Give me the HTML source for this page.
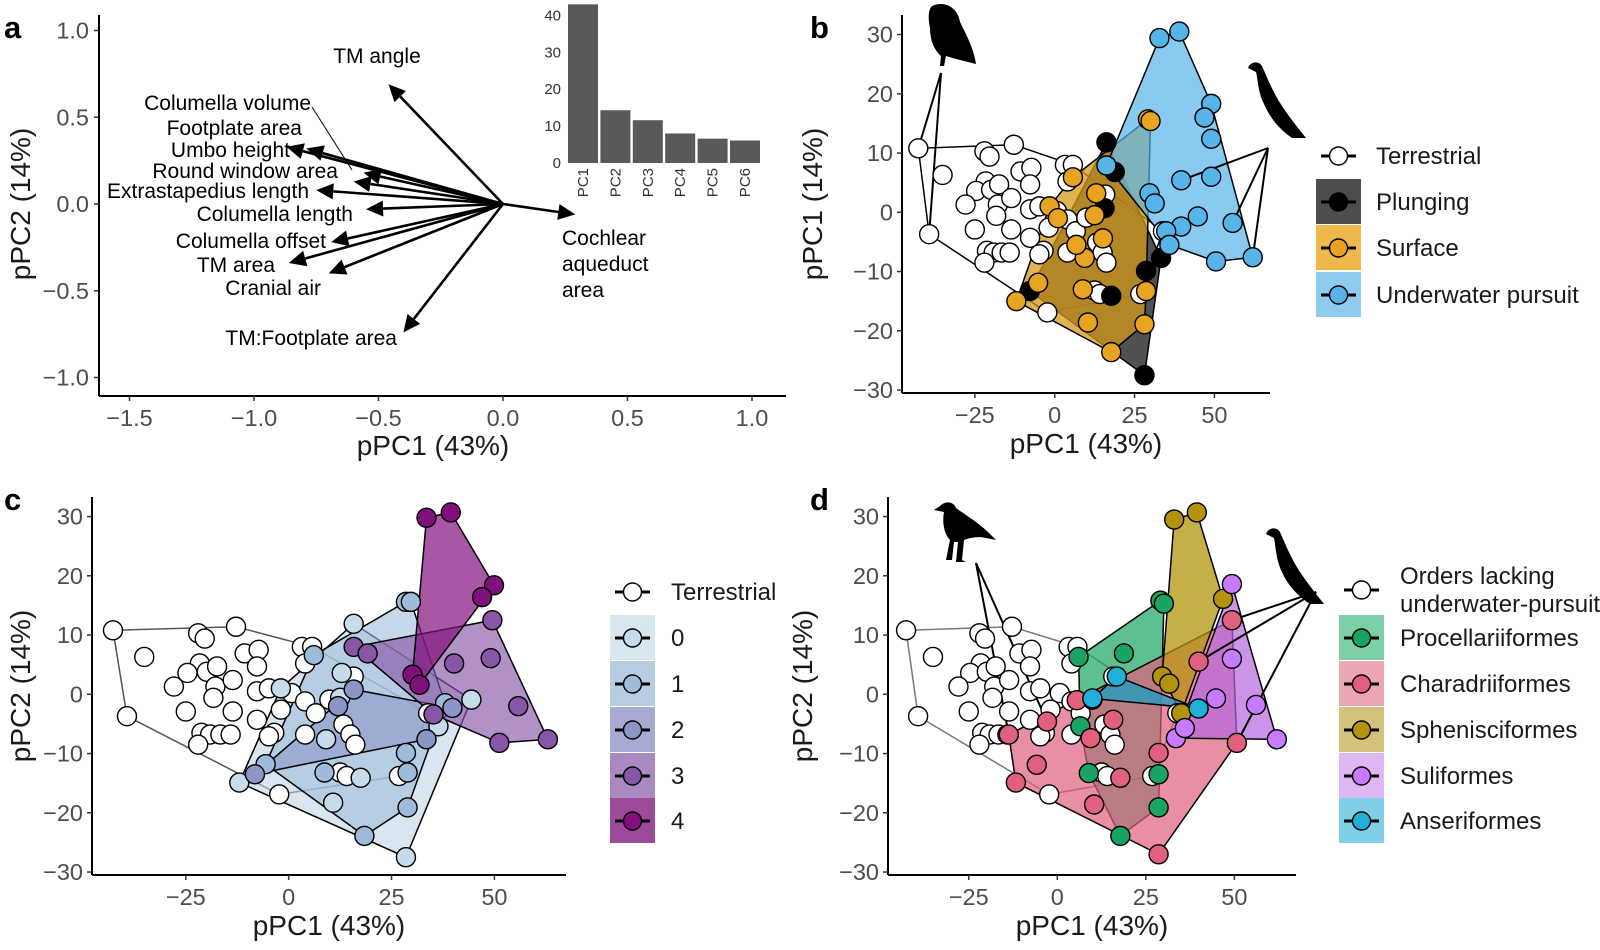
<!DOCTYPE html>
<html><head><meta charset="utf-8"><style>
html,body{margin:0;padding:0;background:#fff;}
svg{display:block;font-family:"Liberation Sans",sans-serif;}
.tk{fill:#4d4d4d;font-size:23.5px;}
.at{fill:#1a1a1a;font-size:28px;}
.lg{fill:#1a1a1a;font-size:24px;}
.al{fill:#000;font-size:21px;}
.pl{fill:#000;font-size:31px;font-weight:bold;}
</style></head><body>
<svg id="fig" width="1600" height="950" viewBox="0 0 1600 950">
<text class="pl" x="4" y="38">a</text>
<text class="pl" x="810" y="38">b</text>
<text class="pl" x="4" y="510">c</text>
<text class="pl" x="810" y="510">d</text>
<g id="pa"></g>
<g id="pb"></g>
<g id="pc"></g>
<g id="pd"></g>
</svg>
<script>
// ---- Panel a: loadings ----
const arrowNames=["TM angle","Footplate area","Umbo height","Columella volume","Round window area","Extrastapedius length","Columella length","Columella offset","TM area","Cranial air","TM:Footplate area","Cochlear aqueduct area"];
const arrowX=[-0.46,-0.79,-0.87,-0.56,-0.60,-0.75,-0.55,-0.69,-0.86,-0.70,-0.40,0.29];
const arrowY=[0.69,0.32,0.33,0.18,0.13,0.08,-0.03,-0.22,-0.34,-0.40,-0.74,-0.06];
const aXTicks=[-1.5,-1.0,-0.5,0.0,0.5,1.0];
const aYTicks=[1.0,0.5,0.0,-0.5,-1.0];
// inset scree
const pcNames=["PC1","PC2","PC3","PC4","PC5","PC6"];
const pcVals=[43,14.3,11.6,8,6.6,6.1];
const pcTicks=[0,10,20,30,40];
// ---- shared scatter data ----
const terrestrial=[[-42.7,10.8],[-35.1,6.3],[-39.3,-3.7],[-22,10.3],[-20.4,9.4],[-12.8,11.4],[-10.7,6.9],[-7.3,7.5],[-7.7,4.7],[-21.6,5.2],[-24.6,3.6],[-19.9,3.8],[-17.4,4.7],[-17.8,1.3],[-13.6,2.4],[-18.3,-0.6],[-27.9,1.3],[-25,-2.9],[-13.6,-2.9],[-21.2,-6.5],[-19.1,-6.8],[-16.6,-6.8],[-14.1,-6.8],[-22,-8.5],[-7.7,0.5],[-4.8,1.0],[0.7,0.2],[-1.9,-2.6],[-7.7,-4.3],[-3.5,-6.5],[-4.8,-7.1],[4,-6.8],[4,-1.2],[6.6,-3.2],[9.9,-0.9],[13.3,-5.1],[15,-6.8],[16.2,-8.5],[15.8,3.0],[3.2,8.0],[5.7,8.0],[4,5.2],[33.9,-3.2],[26.8,-13.8],[12.5,-13.2],[14.1,-13.8],[-2.3,-16.9]];
// panel b: foraging habit
const plunging=[[16.2,11.8],[18.8,6.8],[15.6,0.7],[-7.8,-13.3],[17.7,-14.1],[28.6,-9.9],[33.3,-7.7],[28.1,-27.5]];
const surface=[[29.2,15.7],[30,15.4],[5.7,5.9],[13,3.2],[-1.6,1.0],[12.5,-0.5],[15.1,-4.4],[9.4,-7.7],[6.8,-5.5],[-5.2,-11.9],[-12,-15],[8.8,-13],[28.6,-13.3],[10.4,-18.6],[28.1,-18.9],[17.7,-23.6],[1,-1]];
const underwater=[[32.8,29.4],[39,30.5],[49,18.3],[46.9,16],[49,12.4],[49,6],[39.6,5.4],[16.2,7.9],[29.7,3.2],[31.3,1.5],[44.8,-0.7],[55.7,-1.8],[39.6,-2.4],[34.9,-3.2],[35.9,-5.5],[50.5,-8.3],[62,-7.6]];
// panel c: dive score
const dive0=[[15.8,11.9],[12.9,3.6],[-1.9,1.0],[9.1,-7.6],[17.5,-14.1],[10.8,-18.3],[28.5,-27.5],[-12,-14.9],[44.4,-0.9],[36.4,-5.4],[12.5,-0.6]];
const dive1=[[28.5,15.6],[29.7,15.6],[6.1,6.6],[28.5,-9.9],[28.9,-13.2],[28.9,-19.1],[18.4,-23.9],[8.7,-13.2],[-5.6,-11.8],[38,-1.5]];
const dive2=[[15.8,0.8],[33.5,-7.6],[-8.2,-13.5],[39.8,-2.3],[12,-2]];
const dive3=[[49.5,12.5],[49.1,6.1],[40.2,5.2],[55.8,-2],[63,-7.6],[51.2,-8.2],[35.2,-3.4],[15.8,8.0],[19.2,6.9]];
const dive4=[[33.5,29.8],[39.4,30.7],[49.9,18.4],[47,16.4],[30.1,3.3],[31.8,1.6]];
// panel d: orders
const procellariiformes=[[29.1,15.8],[30.1,15.3],[6,6.3],[18.8,6.9],[6.5,-5.4],[8.9,-13.3],[28.6,-13.5],[28.6,-19.1],[17.8,-23.9]];
const charadriiformes=[[49.3,12.5],[39.9,5.5],[50.7,-8.2],[-2.9,-4.6],[-13.7,-6.8],[5.5,-1],[9.4,-7.4],[15.8,-4.3],[17.8,-14.1],[10.4,-18.6],[-5.8,-11.9],[-11.7,-14.9],[28.6,-9.9],[28.6,-27]];
const sphenisciformes=[[33,29.5],[39.4,30.7],[46.8,16.1],[29.6,3.0],[31.6,1.8],[35,-3.2]];
const suliformes=[[49.3,18.6],[49.3,6.0],[44.8,-0.7],[56.1,-1.8],[62,-7.6],[33.5,-7.4],[36,-5.7]];
const anseriformes=[[16.8,3.0],[9.9,-0.7],[39.9,-2.4]];
const sXTicks=[-25,0,25,50];
const sYTicks=[-30,-20,-10,0,10,20,30];
const xRange=[-47.8,67.4], yRange=[-30.5,33.3];

const NS="http://www.w3.org/2000/svg";
function mk(parent,tag,attrs,txt){const e=document.createElementNS(NS,tag);for(const k in attrs)e.setAttribute(k,attrs[k]);if(txt!==undefined)e.textContent=txt;parent.appendChild(e);return e;}
function hull(pts){const p=pts.slice().sort((a,b)=>a[0]-b[0]||a[1]-b[1]);if(p.length<3)return p;const cr=(o,a,b)=>(a[0]-o[0])*(b[1]-o[1])-(a[1]-o[1])*(b[0]-o[0]);const lo=[],up=[];for(const q of p){while(lo.length>=2&&cr(lo[lo.length-2],lo[lo.length-1],q)<=0)lo.pop();lo.push(q);}for(let i=p.length-1;i>=0;i--){const q=p[i];while(up.length>=2&&cr(up[up.length-2],up[up.length-1],q)<=0)up.pop();up.push(q);}up.pop();lo.pop();return lo.concat(up);}

// ===== Panel a =====
(function(){
const g=document.getElementById('pa');
const F={l:99,r:786,t:15,b:396};
const X=v=>503+v*249, Y=v=>204-v*173.5;
let e;
e=mk(g,'line',{x1:F.l,y1:F.t,x2:F.l,y2:F.b,stroke:'#000','stroke-width':2});


e=mk(g,'line',{x1:F.l,y1:F.b,x2:F.r,y2:F.b,stroke:'#000','stroke-width':2});


aXTicks.forEach(t=>{mk(g,'line',{x1:X(t),y1:F.b,x2:X(t),y2:F.b+5,stroke:'#333','stroke-width':1.5});
 e=mk(g,'text',{class:'tk',x:X(t),y:F.b+30,'text-anchor':'middle'},(t<0?'\u2212':'')+Math.abs(t).toFixed(1));
 
 });
aYTicks.forEach(t=>{mk(g,'line',{x1:F.l-5,y1:Y(t),x2:F.l,y2:Y(t),stroke:'#333','stroke-width':1.5});
 e=mk(g,'text',{class:'tk',x:F.l-10,y:Y(t)+8,'text-anchor':'end'},(t<0?'\u2212':'')+Math.abs(t).toFixed(1));
 
 });
e=mk(g,'text',{class:'at',x:433,y:455,'text-anchor':'middle'},'pPC1 (43%)');


e=mk(g,'text',{class:'at',x:0,y:0,'text-anchor':'middle',transform:'translate(30,204) rotate(-90)'},'pPC2 (14%)');


const ox=X(0),oy=Y(0);
arrowX.forEach((v,i)=>{const x2=X(v),y2=Y(arrowY[i]);const dx=x2-ox,dy=y2-oy,L=Math.hypot(dx,dy),ux=dx/L,uy=dy/L;const hl=17,hw=8;
 const bx=x2-ux*hl,by=y2-uy*hl;
 e=mk(g,'line',{x1:ox,y1:oy,x2:bx,y2:by,stroke:'#000','stroke-width':2.6});
 
 
 e=mk(g,'polygon',{points:`${x2},${y2} ${bx-uy*hw},${by+ux*hw} ${bx+uy*hw},${by-ux*hw}`,fill:'#000'});
 
 });
const labs=[["TM angle",377,63,'middle'],["Columella volume",311,110,'end'],["Footplate area",302,135,'end'],["Umbo height",290,157,'end'],["Round window area",338,178,'end'],["Extrastapedius length",309,198,'end'],["Columella length",353,221,'end'],["Columella offset",326,248,'end'],["TM area",275,272,'end'],["Cranial air",321,295,'end'],["TM:Footplate area",397,345,'end'],["Cochlear",562,245,'start'],["aqueduct",562,271,'start'],["area",562,297,'start']];
labs.forEach(l=>{e=mk(g,'text',{class:'al',x:l[1],y:l[2],'text-anchor':l[3]},l[0]);
 
 });
e=mk(g,'line',{x1:312,y1:107,x2:352,y2:170,stroke:'#000','stroke-width':1});


// inset
const ib=163,iu=3.69,bx0=568,bs=32.4,bw=30;
pcVals.forEach((v,i)=>{e=mk(g,'rect',{x:bx0+i*bs,y:ib-v*iu,width:bw,height:v*iu,fill:'#595959'});
 
 
 e=mk(g,'text',{x:0,y:0,'font-size':15,fill:'#333','text-anchor':'end',transform:`translate(${bx0+i*bs+bw/2+5},${ib+5}) rotate(-90)`},pcNames[i]);
 
 });
pcTicks.forEach(t=>{e=mk(g,'text',{x:561,y:ib-t*iu+5,'font-size':15,fill:'#333','text-anchor':'end'},String(t));
 
 });
})();

// ===== scatter panels =====
function scatterPanel(id,F,groups,opts){
 const g=document.getElementById(id);
 const X=v=>F.l+(v-xRange[0])/(xRange[1]-xRange[0])*(F.r-F.l);
 const Y=v=>F.b-(v-yRange[0])/(yRange[1]-yRange[0])*(F.b-F.t);
 let e;
 e=mk(g,'line',{x1:F.l,y1:F.t,x2:F.l,y2:F.b,stroke:'#000','stroke-width':2});
 
 
 e=mk(g,'line',{x1:F.l,y1:F.b,x2:F.r,y2:F.b,stroke:'#000','stroke-width':2});
 
 
 sXTicks.forEach(t=>{mk(g,'line',{x1:X(t),y1:F.b,x2:X(t),y2:F.b+5,stroke:'#333','stroke-width':1.5});
  e=mk(g,'text',{class:'tk',x:X(t),y:F.b+30,'text-anchor':'middle'},(t<0?'\u2212':'')+Math.abs(t));
  
  });
 sYTicks.forEach(t=>{mk(g,'line',{x1:F.l-5,y1:Y(t),x2:F.l,y2:Y(t),stroke:'#333','stroke-width':1.5});
  e=mk(g,'text',{class:'tk',x:F.l-9,y:Y(t)+8,'text-anchor':'end'},(t<0?'\u2212':'')+Math.abs(t));
  
  });
 e=mk(g,'text',{class:'at',x:(F.l+F.r)/2+(opts.xtOff||0),y:F.b+60,'text-anchor':'middle'},'pPC1 (43%)');
 
 
 e=mk(g,'text',{class:'at',x:0,y:0,'text-anchor':'middle',transform:`translate(${opts.ytx},${(F.t+F.b)/2}) rotate(-90)`},opts.ytitle);
 
 
 groups.forEach(gr=>{const h=hull(gr.pts);if(h.length<2)return;
  e=mk(g,'polygon',{points:h.map(p=>X(p[0])+','+Y(p[1])).join(' '),fill:gr.hfill,'fill-opacity':gr.hop,stroke:gr.hstroke,'stroke-width':1.5});
  
  });
 (opts.pointers||[]).forEach(pp=>{pp.to.forEach(t=>{e=mk(g,'line',{x1:pp.from[0],y1:pp.from[1],x2:X(t[0]),y2:Y(t[1]),stroke:'#000','stroke-width':2});
  
  });});
 groups.forEach(gr=>{gr.pts.forEach(p=>{e=mk(g,'circle',{cx:X(p[0]),cy:Y(p[1]),r:9.5,fill:gr.col,stroke:'#000','stroke-width':1.4});
  
  });});
 // legend
 const L=opts.legend;
 L.items.forEach((it,i)=>{const cy=L.ys[i];
  if(it.patch){e=mk(g,'rect',{x:L.px,y:cy-23,width:45,height:45,fill:it.patch});
   
   }
  mk(g,'line',{x1:L.px+5,y1:cy,x2:L.px+40,y2:cy,stroke:'#000','stroke-width':3});
  e=mk(g,'circle',{cx:L.px+22.5,cy:cy,r:9,fill:it.col,stroke:'#000','stroke-width':1.4});
  
  
  it.label.forEach((t,j)=>{e=mk(g,'text',{class:'lg',x:L.tx,y:cy+8+(j-(it.label.length-1)/2)*28},t);
   
   });});
 return g;
}
function bird(g,d,name){const e=mk(g,'path',{d:d,fill:'#000'});
 
 }

// Panel b
const gb=scatterPanel('pb',{l:902,r:1270,t:15,b:393},[
 {name:'terrestrial',pts:terrestrial,col:'#fff',hfill:'none',hop:0,hstroke:'#000'},
 {name:'plunging',pts:plunging,col:'#000',hfill:'#333',hop:0.85,hstroke:'#000'},
 {name:'surface',pts:surface,col:'#e8a420',hfill:'#d49a18',hop:0.75,hstroke:'#000'},
 {name:'underwater-pursuit',pts:underwater,col:'#56b4e9',hfill:'#56b4e9',hop:0.7,hstroke:'#000'}],
 {ytitle:'pPC1 (14%)',ytx:822,pointers:[{from:[941,73],to:[[-42.7,10.8],[-39.3,-3.7]]},{from:[1268,148],to:[[39.6,5.4],[55.7,-1.8],[62,-7.6]]}],
  legend:{px:1316,tx:1376,ys:[156,202,248,295],items:[
   {col:'#fff',label:['Terrestrial']},{col:'#000',patch:'#4d4d4d',label:['Plunging']},
   {col:'#e8a420',patch:'#efb84a',label:['Surface']},{col:'#56b4e9',patch:'#8fcbee',label:['Underwater pursuit']}]}});
bird(gb,'M932,6 C945,0 958,8 960,22 C968,38 974,50 976,64 L968,62 C960,60 952,58 946,56 L944,66 L940,66 L941,56 C934,50 930,40 930,28 C928,18 928,10 932,6 Z','owl-silhouette');
bird(gb,'M1262,66 C1258,60 1250,62 1248,68 L1256,72 C1258,80 1258,92 1264,104 C1270,118 1280,130 1292,138 L1306,138 C1298,128 1290,118 1282,106 C1274,94 1268,80 1262,66 Z','cormorant-silhouette');

// Panel c
scatterPanel('pc',{l:92,r:566,t:497,b:875},[
 {name:'terrestrial',pts:terrestrial,col:'#fff',hfill:'none',hop:0,hstroke:'#555'},
 {name:'dive-0',pts:dive0,col:'#c6dcea',hfill:'#bfd3e6',hop:0.6,hstroke:'#000'},
 {name:'dive-1',pts:dive1,col:'#9ebcda',hfill:'#9ebcda',hop:0.6,hstroke:'#000'},
 {name:'dive-2',pts:dive2,col:'#8c96c6',hfill:'#8c96c6',hop:0.6,hstroke:'#000'},
 {name:'dive-3',pts:dive3,col:'#8856a7',hfill:'#8856a7',hop:0.65,hstroke:'#000'},
 {name:'dive-4',pts:dive4,col:'#810f7c',hfill:'#810f7c',hop:0.7,hstroke:'#000'}],
 {ytitle:'pPC2 (14%)',ytx:30,
  legend:{px:610,tx:671,ys:[592,638,684,730,776,821],items:[
   {col:'#fff',label:['Terrestrial']},{col:'#c6dcea',patch:'#d8e6ef',label:['0']},{col:'#9ebcda',patch:'#b9cde2',label:['1']},
   {col:'#8c96c6',patch:'#a7aad2',label:['2']},{col:'#8856a7',patch:'#a889c0',label:['3']},{col:'#810f7c',patch:'#9e4a9b',label:['4']}]}});

// Panel d
const gd=scatterPanel('pd',{l:888,r:1296,t:497,b:875},[
 {name:'orders-lacking',pts:terrestrial,col:'#fff',hfill:'none',hop:0,hstroke:'#777'},
 {name:'procellariiformes',pts:procellariiformes,col:'#19a463',hfill:'#19a463',hop:0.7,hstroke:'#000'},
 {name:'charadriiformes',pts:charadriiformes,col:'#e0607e',hfill:'#e0607e',hop:0.7,hstroke:'#000'},
 {name:'sphenisciformes',pts:sphenisciformes,col:'#b3930c',hfill:'#b3930c',hop:0.75,hstroke:'#000'},
 {name:'suliformes',pts:suliformes,col:'#c77cff',hfill:'#b767e0',hop:0.7,hstroke:'#000'},
 {name:'anseriformes',pts:anseriformes,col:'#1fb0d8',hfill:'#1a9fc0',hop:0.75,hstroke:'#000'}],
 {ytitle:'pPC2 (14%)',ytx:812,pointers:[{from:[976,563],to:[[-13.7,-6.8],[-2.9,-4.6]]},{from:[1316,592],to:[[49.3,12.5],[39.9,5.5],[50.7,-8.2]]}],
  legend:{px:1339,tx:1400,ys:[590,638,684,730,776,821],items:[
   {col:'#fff',label:['Orders lacking','underwater-pursuit']},{col:'#19a463',patch:'#7ccfa6',label:['Procellariiformes']},
   {col:'#e0607e',patch:'#eba6b6',label:['Charadriiformes']},{col:'#b3930c',patch:'#d3c27a',label:['Sphenisciformes']},
   {col:'#c77cff',patch:'#dfb8f3',label:['Suliformes']},{col:'#1fb0d8',patch:'#7fd0e6',label:['Anseriformes']}]}});
bird(gd,'M940,506 C946,500 954,502 956,508 C964,514 978,522 990,534 L996,540 L986,538 C978,536 970,538 964,540 L962,560 L966,562 L956,562 L958,542 L954,542 L952,560 L946,560 L950,540 C944,534 942,522 944,512 L934,510 Z','plover-silhouette');
bird(gd,'M1280,532 C1276,526 1268,528 1266,534 L1274,538 C1276,548 1276,560 1282,572 C1288,586 1298,596 1310,604 L1324,604 C1316,594 1308,584 1300,572 C1292,560 1286,546 1280,532 Z','cormorant-silhouette-d');
</script>
</body></html>
